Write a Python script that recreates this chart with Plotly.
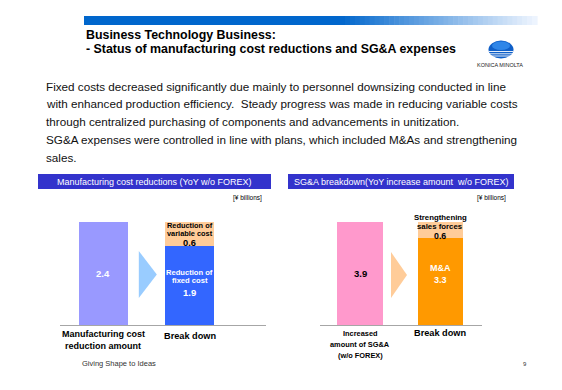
import plotly.graph_objects as go

# ---------------- data ----------------
left_categories = ["Manufacturing cost<br>reduction amount", "Break down"]
left_total = [2.4]
left_fixed = [1.85]       # shown as 1.9
left_variable = [0.55]    # shown as 0.6

right_categories = ["Increased<br>amount of SG&A<br>(w/o FOREX)", "Break down"]
right_total = [3.9]
right_ma = [3.3]
right_sales = [0.6]

W, H = 562, 390
FONT = "Liberation Sans, Arial, sans-serif"


def px(x):
    return x / W


def py(y):
    return 1 - y / H


fig = go.Figure()

BW_L = 0.566
BW_R = 0.571

# left chart bars
fig.add_trace(go.Bar(x=[0], y=left_total, width=BW_L, marker=dict(color="#9999ff", line_width=0),
                     xaxis="x", yaxis="y", hoverinfo="skip"))
fig.add_trace(go.Bar(x=[1], y=left_fixed, width=BW_L, marker=dict(color="#3366ff", line_width=0),
                     xaxis="x", yaxis="y", hoverinfo="skip"))
fig.add_trace(go.Bar(x=[1], y=left_variable, width=BW_L, marker=dict(color="#ffcc99", line_width=0),
                     xaxis="x", yaxis="y", hoverinfo="skip"))
# right chart bars
fig.add_trace(go.Bar(x=[0], y=right_total, width=BW_R, marker=dict(color="#ff99cc", line_width=0),
                     xaxis="x2", yaxis="y2", hoverinfo="skip"))
fig.add_trace(go.Bar(x=[1], y=right_ma, width=BW_R, marker=dict(color="#ff9900", line_width=0),
                     xaxis="x2", yaxis="y2", hoverinfo="skip"))
fig.add_trace(go.Bar(x=[1], y=right_sales, width=BW_R, marker=dict(color="#ffcc99", line_width=0),
                     xaxis="x2", yaxis="y2", hoverinfo="skip"))

shapes = []
annotations = []

# top gradient bar
shapes.append(dict(type="rect", xref="paper", yref="paper", x0=px(84), x1=px(341),
                   y0=py(25), y1=py(16), fillcolor="#0066cc", line_width=0, layer="below"))
N = 40
x_start, x_end = 340, 537
for i in range(N):
    t = (i + 0.5) / N
    r = int(0 + (240 - 0) * t)
    g = int(102 + (246 - 102) * t)
    b = int(204 + (255 - 204) * t)
    xa = x_start + (x_end - x_start) * i / N
    xb = x_start + (x_end - x_start) * (i + 1) / N + 0.6
    shapes.append(dict(type="rect", xref="paper", yref="paper", x0=px(xa), x1=px(xb),
                       y0=py(25), y1=py(16), fillcolor=f"rgb({r},{g},{b})", line_width=0, layer="below"))

# title
annotations.append(dict(text="<b>Business Technology Business:</b>", x=px(84), y=py(35), xref="paper", yref="paper",
                        xanchor="left", yanchor="middle", showarrow=False,
                        font=dict(family=FONT, size=12.4, color="#000")))
annotations.append(dict(text="<b>- Status of manufacturing cost reductions and SG&A expenses</b>", x=px(84), y=py(49),
                        xref="paper", yref="paper", xanchor="left", yanchor="middle", showarrow=False,
                        font=dict(family=FONT, size=12.4, color="#000")))

# logo
shapes.append(dict(type="circle", xref="paper", yref="paper", x0=px(488.5), x1=px(513.5), y0=py(58.5), y1=py(40.5),
                   fillcolor="#0f5fc8", line_width=0))
shapes.append(dict(type="circle", xref="paper", yref="paper", x0=px(492), x1=px(510), y0=py(50), y1=py(41.5),
                   fillcolor="#2f86e8", line_width=0))
for yy in (51.5, 53.8, 56.0):
    shapes.append(dict(type="line", xref="paper", yref="paper", x0=px(489), x1=px(513), y0=py(yy), y1=py(yy),
                       line=dict(color="white", width=0.9)))
annotations.append(dict(text="KONICA MINOLTA", x=px(500), y=py(65), xref="paper", yref="paper",
                        xanchor="center", yanchor="middle", showarrow=False,
                        font=dict(family=FONT, size=5.5, color="#222")))

# body text
body = [
    "Fixed costs decreased significantly due mainly to personnel downsizing conducted in line",
    "with enhanced production efficiency.  Steady progress was made in reducing variable costs",
    "through centralized purchasing of components and advancements in unitization.",
    "SG&A expenses were controlled in line with plans, which included M&As and strengthening",
    "sales.",
]
for i, line in enumerate(body):
    annotations.append(dict(text=line.replace("  ", "&nbsp; "), x=px(44), y=py(86 + 17.8 * i), xref="paper",
                            yref="paper", xanchor="left", yanchor="middle", showarrow=False,
                            font=dict(family=FONT, size=11.7, color="#111")))

# panel headers
for (x0, x1, label) in ((38, 271, "Manufacturing cost reductions (YoY w/o FOREX)"),
                        (288, 514, "SG&A breakdown(YoY increase amount&nbsp; w/o FOREX)")):
    shapes.append(dict(type="rect", xref="paper", yref="paper", x0=px(x0), x1=px(x1), y0=py(189), y1=py(174),
                       fillcolor="#3333cc", line_width=0))
    annotations.append(dict(text=label, x=px((x0 + x1) / 2), y=py(181.5), xref="paper", yref="paper",
                            xanchor="center", yanchor="middle", showarrow=False,
                            font=dict(family=FONT, size=9, color="white")))

# units
for xr in (264, 508):
    annotations.append(dict(text="[¥ billions]", x=px(xr), y=py(198), xref="paper", yref="paper",
                            xanchor="right", yanchor="middle", showarrow=False,
                            font=dict(family=FONT, size=6.5, color="#000")))

# arrows between bars (data coordinates)
shapes.append(dict(type="path", xref="x", yref="y",
                   path="M 0.41 0.629 L 0.41 1.725 L 0.618 1.177 Z",
                   fillcolor="#99ccff", line_width=0))
shapes.append(dict(type="path", xref="x2", yref="y2",
                   path="M 0.385 1.022 L 0.385 2.764 L 0.584 1.893 Z",
                   fillcolor="#ffcc99", line_width=0))


def lab(text, x, y, xref, yref, shift, size, color):
    annotations.append(dict(text=f"<b>{text}</b>", x=x, y=y, xref=xref, yref=yref, yshift=shift,
                            xanchor="center", yanchor="middle", showarrow=False,
                            font=dict(family=FONT, size=size, color=color)))


# left bar labels
lab(f"{left_total[0]:.1f}", 0, left_total[0] / 2, "x", "y", 0, 9.5, "white")
mid_fixed = left_fixed[0] / 2
lab("Reduction of", 1, mid_fixed, "x", "y", 13, 7.6, "white")
lab("fixed cost", 1, mid_fixed, "x", "y", 5, 7.6, "white")
lab(f"{left_fixed[0]:.1f}", 1, mid_fixed, "x", "y", -7, 9.5, "white")
mid_var = left_fixed[0] + left_variable[0] / 2
lab("Reduction of", 1, mid_var, "x", "y", 8.5, 7.4, "black")
lab("variable cost", 1, mid_var, "x", "y", 0, 7.4, "black")
lab(f"{left_variable[0]:.1f}", 1, mid_var, "x", "y", -9.5, 9.3, "black")

# right bar labels
lab(f"{right_total[0]:.1f}", 0, right_total[0] / 2, "x2", "y2", 0, 9.5, "black")
mid_ma = right_ma[0] / 2
lab("M&A", 1, mid_ma, "x2", "y2", 13, 9, "white")
lab(f"{right_ma[0]:.1f}", 1, mid_ma, "x2", "y2", 1, 9, "white")
mid_s = right_ma[0] + right_sales[0] / 2
lab("Strengthening", 1, mid_s, "x2", "y2", 12.5, 7.8, "black")
lab("sales forces", 1, mid_s, "x2", "y2", 3, 7.8, "black")
lab(f"{right_sales[0]:.1f}", 1, mid_s, "x2", "y2", -6, 8.8, "black")


# category labels (under axes)
def cat_label(text, x, xref, ys, size):
    for line, yy in zip(text.split("<br>"), ys):
        annotations.append(dict(text=f"<b>{line}</b>", x=x, y=py(yy), xref=xref, yref="paper",
                                xanchor="center", yanchor="middle", showarrow=False,
                                font=dict(family=FONT, size=size, color="#000")))


cat_label(left_categories[0], 0, "x", [334, 346], 9)
cat_label(left_categories[1], 1, "x", [336], 9.2)
cat_label(right_categories[0], 0, "x2", [333, 344, 355], 7.4)
cat_label(right_categories[1], 1, "x2", [333], 9.2)

# footer
annotations.append(dict(text="Giving Shape to Ideas", x=px(80), y=py(363), xref="paper", yref="paper",
                        xanchor="left", yanchor="middle", showarrow=False,
                        font=dict(family=FONT, size=7.5, color="#333")))
annotations.append(dict(text="9", x=px(525), y=py(364), xref="paper", yref="paper",
                        xanchor="center", yanchor="middle", showarrow=False,
                        font=dict(family=FONT, size=6, color="#333")))

axis_common = dict(showgrid=False, zeroline=False, showticklabels=False, ticks="",
                   showline=True, linecolor="#a6a6a6", linewidth=1, fixedrange=True)

fig.update_layout(
    width=W, height=H,
    margin=dict(l=0, r=0, t=0, b=0),
    paper_bgcolor="white", plot_bgcolor="rgba(0,0,0,0)",
    barmode="stack", bargap=0, showlegend=False,
    xaxis=dict(domain=[px(60), px(266)], range=[-0.5, 1.879], anchor="y", **axis_common),
    yaxis=dict(domain=[py(325), py(205)], range=[0, 2.796], visible=False, anchor="x"),
    xaxis2=dict(domain=[px(320), px(482)], range=[-0.497, 1.516], anchor="y2", **axis_common),
    yaxis2=dict(domain=[py(325), py(205)], range=[0, 4.544], visible=False, anchor="x2"),
    shapes=shapes, annotations=annotations,
)

fig.write_html("out.html", config={"displayModeBar": False},
               post_script="document.body.style.margin='0';document.body.style.overflow='hidden';")
